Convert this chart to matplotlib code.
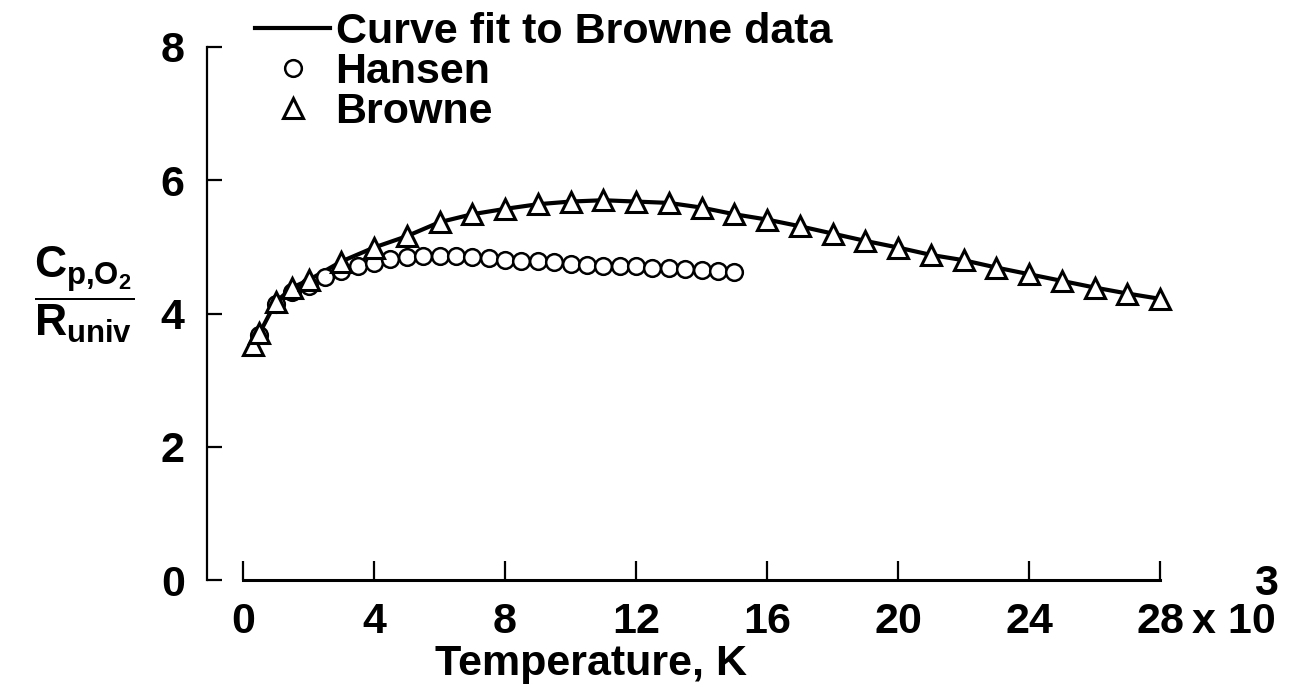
import matplotlib
matplotlib.use('Agg')
import matplotlib.pyplot as plt

# Browne data (temperature in 10^3 K, Cp/R)
browne_t = [0.3, 0.5, 1.0, 1.5, 2.0, 3, 4, 5, 6, 7, 8, 9, 10, 11, 12, 13, 14,
            15, 16, 17, 18, 19, 20, 21, 22, 23, 24, 25, 26, 27, 28]
browne_cp = [3.52, 3.70, 4.17, 4.39, 4.50, 4.78, 4.99, 5.16, 5.37, 5.49, 5.57,
             5.64, 5.68, 5.70, 5.68, 5.66, 5.59, 5.49, 5.41, 5.31, 5.20, 5.09,
             4.99, 4.88, 4.80, 4.69, 4.59, 4.49, 4.39, 4.30, 4.22]

# Hansen data
hansen_t = [0.5, 1.0, 1.5, 2.0, 2.5, 3.0, 3.5, 4.0, 4.5, 5.0, 5.5, 6.0, 6.5,
            7.0, 7.5, 8.0, 8.5, 9.0, 9.5, 10.0, 10.5, 11.0, 11.5, 12.0, 12.5,
            13.0, 13.5, 14.0, 14.5, 15.0]
hansen_cp = [3.68, 4.15, 4.32, 4.42, 4.55, 4.64, 4.71, 4.76, 4.82, 4.85, 4.86,
             4.86, 4.86, 4.85, 4.83, 4.81, 4.79, 4.79, 4.77, 4.75, 4.73, 4.71,
             4.72, 4.71, 4.68, 4.68, 4.67, 4.66, 4.64, 4.62]

xticks = [0, 4, 8, 12, 16, 20, 24, 28]
yticks = [0, 2, 4, 6, 8]

plt.rcParams['font.family'] = ['Liberation Sans', 'DejaVu Sans']
plt.rcParams['font.weight'] = 'bold'
plt.rcParams['mathtext.fontset'] = 'custom'
plt.rcParams['mathtext.rm'] = 'Liberation Sans:bold'
plt.rcParams['mathtext.it'] = 'Liberation Sans:bold'
plt.rcParams['mathtext.bf'] = 'Liberation Sans:bold'

fs = 31
fig = plt.figure(figsize=(13.02, 6.87), dpi=100)
ax = fig.add_axes([243/1302, 1-580/687, (1160-243)/1302, (580-47)/687])

line, = ax.plot(browne_t, browne_cp, color='black', lw=3, zorder=2,
                label='Curve fit to Browne data', clip_on=False)
circ, = ax.plot(hansen_t, hansen_cp, 'o', ms=12, mfc='white', mec='black',
                mew=1.8, zorder=3, label='Hansen', clip_on=False)
tri, = ax.plot(browne_t, browne_cp, '^', ms=14, mfc='white', mec='black',
               mew=2.2, zorder=4, label='Browne', clip_on=False)

ax.set_xlim(0, 28)
ax.set_ylim(0, 8)
for s in ['top', 'right']:
    ax.spines[s].set_visible(False)
ax.spines['left'].set_position(('outward', 26))
ax.spines['left'].set_bounds(0, 8)
ax.spines['bottom'].set_bounds(0, 28)
ax.spines['left'].set_linewidth(1.6)
ax.spines['bottom'].set_linewidth(2.2)

ax.set_xticks(xticks)
ax.set_xticklabels([str(t) for t in xticks])
ax.set_yticks(yticks)
ax.tick_params(axis='x', direction='in', length=14, width=1.6, pad=16, labelsize=fs)
ax.tick_params(axis='y', direction='in', length=11, width=1.6, pad=16, labelsize=fs)

ax.set_xlabel('Temperature, K', fontsize=fs, fontweight='bold', labelpad=0)
ax.xaxis.set_label_coords(0.38, -0.12)

ax.annotate('x 10', xy=(28, 0), xycoords=('data', 'axes fraction'),
            xytext=(23, -16), textcoords='offset points', ha='left', va='top',
            fontsize=fs, fontweight='bold')
ax.annotate('3', xy=(28, 0), xycoords=('data', 'axes fraction'),
            xytext=(76, -3), textcoords='offset points', ha='center', va='center',
            fontsize=fs, fontweight='bold')

fig.text(84/1302, 1-295/687, r'$\dfrac{C_{p{,}O_2}}{R_{univ}}$', fontsize=32,
         ha='center', va='center')

ax.legend(handles=[line, circ, tri], loc='upper left', frameon=False,
          bbox_to_anchor=(255/1302, 1-12/687), bbox_transform=fig.transFigure,
          fontsize=fs, handlelength=1.75, handletextpad=0.12, labelspacing=0.0,
          borderpad=0, borderaxespad=0)

fig.savefig('out.png', dpi=100)
